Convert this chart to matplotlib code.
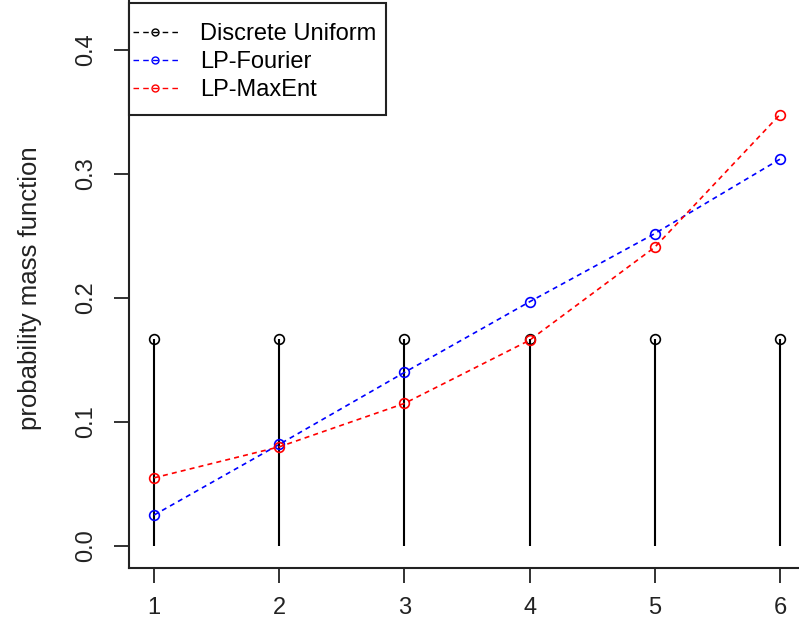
import matplotlib.pyplot as plt
from matplotlib.lines import Line2D
from matplotlib.patches import Rectangle

plt.rcParams['font.family'] = ['Liberation Sans', 'DejaVu Sans']

# data
x_vals = [1, 2, 3, 4, 5, 6]
uniform = [1/6] * 6
lp_fourier = [0.025, 0.082, 0.140, 0.197, 0.252, 0.312]
lp_maxent = [0.055, 0.080, 0.115, 0.166, 0.241, 0.348]
y_ticks = [0.0, 0.1, 0.2, 0.3, 0.4]
legend_labels = ['Discrete Uniform', 'LP-Fourier', 'LP-MaxEnt']

W, H = 799, 630
fig = plt.figure(figsize=(W / 100, H / 100), dpi=100)
# R-style plot region, partly cropped at the top and right like the original
ax = fig.add_axes([129 / W, 62 / H, (805 - 129) / W, (651 - 62) / H])

# vertical "h" lines for the discrete uniform pmf
ax.vlines(x_vals, 0, uniform, colors='black', lw=1.5)
ax.plot(x_vals, uniform, 'o', mfc='none', mec='black', ms=7, mew=1.2)

dash = (0, (3, 2.5))
ax.plot(x_vals, lp_fourier, linestyle=dash, color='blue', lw=1.2,
        marker='o', mfc='none', mec='blue', ms=7, mew=1.2)
ax.plot(x_vals, lp_maxent, linestyle=dash, color='red', lw=1.2,
        marker='o', mfc='none', mec='red', ms=7, mew=1.2)

ax.set_xlim(0.8, 6.2)
ax.set_ylim(-0.0177, 0.4573)
ax.set_xticks(x_vals)
ax.set_xticklabels([str(v) for v in x_vals])
ax.set_yticks(y_ticks)
ax.set_yticklabels(['%.1f' % v for v in y_ticks], rotation=90, va='center')
ax.tick_params(axis='both', length=11, width=1.3, labelsize=17, colors='#222222')
ax.tick_params(axis='x', pad=10)
ax.tick_params(axis='y', pad=12)
for s in ax.spines.values():
    s.set_linewidth(1.5)
    s.set_color('#222222')

fig.text(30 / W, 1 - 288 / H, 'probability mass function', rotation=90,
         ha='center', va='center', fontsize=18.5, color='#222222')

# legend box drawn by hand (R puts more room above/below than at the sides)
fig.patches.append(Rectangle((129 / W, 1 - 115 / H), (386 - 129) / W, 112 / H,
                             transform=fig.transFigure, fill=True, fc='white',
                             ec='#222222', lw=1.5, zorder=5))
handles = [Line2D([], [], color=c, linestyle=(0, (4, 3)), lw=1.0, marker='o',
                  mfc='none', mec=c, ms=5, mew=1.0)
           for c in ['black', 'blue', 'red']]
leg = fig.legend(handles, legend_labels, loc='upper left',
                 bbox_to_anchor=(133 / W, 1 - 23 / H), fontsize=17,
                 frameon=False, handlelength=1.9, handletextpad=0.93,
                 labelspacing=0.26, borderpad=0, borderaxespad=0)
leg.set_zorder(6)

fig.savefig('out.png', dpi=100)
